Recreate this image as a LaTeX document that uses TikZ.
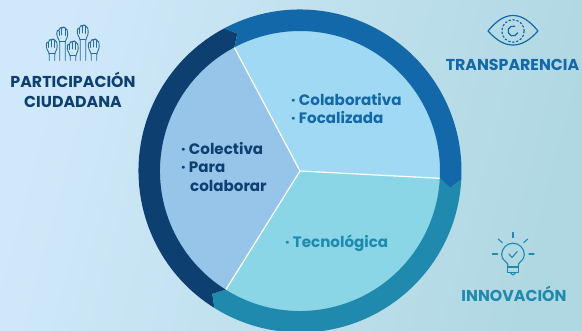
\documentclass[tikz,border=0pt]{standalone}
\usepackage{fontspec}
\setmainfont{Poppins}
\definecolor{navy}{HTML}{0D3F70}
\definecolor{ringblue}{HTML}{1268A8}
\definecolor{ringteal}{HTML}{1F8AAD}
\definecolor{pieleft}{HTML}{96C5E9}
\definecolor{pietop}{HTML}{9FD9F3}
\definecolor{piebot}{HTML}{8AD6E6}
\definecolor{bgleft}{HTML}{D0E9FA}
\definecolor{bgright}{HTML}{B0D8E2}
\definecolor{handcol}{HTML}{2A6A9F}
\newcommand{\ringseg}[3]{%
  \fill[#3] (#1:161.5) arc (#1:#2:161.5) -- ({#2-3.5}:151) -- (#2:140) arc (#2:#1:140) -- ({#1-3.5}:151) -- cycle;}
\newcommand{\handicon}[3]{%
  \begin{scope}[shift={(#1,-#2)},y=-1pt]
    \draw[iconline,rounded corners=1.2] (-2.8,#3) -- (-2.8,14.5) -- (-5.6,9) -- (-5.6,4) -- (-4.4,2.8) -- (-3.2,4) -- (-3.2,1.5) -- (-1.8,0.4) -- (-0.6,1.5) -- (0.4,0) -- (1.8,0) -- (2.6,1.5) -- (4,2) -- (5,3.5) -- (5.2,9) -- (2.8,14.5) -- (2.8,#3);
    \draw[iconline] (-3.2,4) -- (-3.2,8.5) (-0.6,1.5) -- (-0.6,8) (2.5,1.5) -- (2.5,8.5);
    \draw[iconline] (-2.8,14.5) -- (2.8,14.5);
  \end{scope}}
\tikzset{
  iconline/.style={draw=handcol,line width=0.85pt,line cap=round,line join=round},
  headlabel/.style={font=\bfseries\fontsize{15.8}{16}\selectfont,anchor=base,inner sep=0pt},
  itemlabel/.style={font=\fontsize{15.1}{16}\selectfont\bfseries,anchor=base west,inner sep=0pt},
  divider/.style={draw=white,line width=1.2pt},
  eyeline/.style={draw=ringblue,line width=1.2pt,line cap=round,line join=round},
  bulbline/.style={draw=ringteal,line width=1.1pt,line cap=round,line join=round}
}
\begin{document}
\begin{tikzpicture}[x=1pt,y=1pt]
\useasboundingbox (0,0) rectangle (582,-331);
\begin{scope}
  \clip (0,0) rectangle (582,-331);
  \shade[left color=bgleft,right color=bgright,shading angle=75] (0,0) rectangle (582,-331);
  \begin{scope}[shift={(300,-171)}]
    \coordinate (c) at (0,0);
    \coordinate (ptop) at (118:141);
    \coordinate (pright) at (-3:141);
    \coordinate (pbot) at (238:141);
    \fill[pieleft] (c) -- (ptop) arc (118:238:141) -- cycle;
    \fill[pietop] (c) -- (ptop) arc (118:-3:141) -- cycle;
    \fill[piebot] (c) -- (pright) arc (-3:-122:141) -- cycle;
    \draw[divider] (c) -- (ptop);
    \draw[divider] (c) -- (pright);
    \draw[divider] (c) -- (pbot);
    \ringseg{238}{118}{navy}
    \ringseg{118}{-3}{ringblue}
    \ringseg{-3}{-122}{ringteal}
  \end{scope}
\end{scope}

\node[itemlabel,text=ringblue] (i1) at (291,-106) {· Colaborativa};
\node[itemlabel,text=ringblue] (i2) at (291,-124) {· Focalizada};
\node[itemlabel,text=navy] (i3) at (181,-155) {· Colectiva};
\node[itemlabel,text=navy] (i4) at (181,-173) {· Para};
\node[itemlabel,text=navy] (i5) at (190,-192) {colaborar};
\node[itemlabel,text=ringteal] (i6) at (285,-248) {· Tecnológica};

\node[headlabel,text=navy] (h1) at (73,-88) {PARTICIPACIÓN};
\node[headlabel,text=navy] (h2) at (73,-107.5) {CIUDADANA};
\node[headlabel,text=ringblue] (h3) at (512.5,-70.7) {TRANSPARENCIA};
\node[headlabel,text=ringteal] (h4) at (514,-301.7) {INNOVACIÓN};

% hands
\handicon{52}{39}{21.5}
\handicon{62.5}{27}{33.5}
\handicon{73}{41}{19.5}
\handicon{83}{25}{35.5}
\handicon{94}{39}{21.5}

% eye
\draw[eyeline] (488,-31) .. controls (497,-20) and (505,-15.5) .. (513,-15.5) .. controls (521,-15.5) and (529,-20) .. (538,-31) .. controls (529,-41) and (521,-45) .. (513,-45) .. controls (505,-45) and (497,-41) .. (488,-31) -- cycle;
\draw[eyeline,dash pattern=on 1.6pt off 2.4pt] (513,-31) circle (11.2);
\draw[eyeline] (517.7,-32.7) arc (-20:-290:5);

% bulb
\draw[bulbline] (507.7,-267) -- (507.7,-264) .. controls (506,-261) and (501.7,-260) .. (501.7,-254.5) arc (180:0:11.3) .. controls (524.3,-260) and (520,-261) .. (518.5,-264) -- (518.5,-267);
\draw[bulbline] (507.7,-267) -- (518.5,-267) -- (518.5,-272.5) -- (507.7,-272.5) -- cycle;
\draw[bulbline] (510.5,-273) -- (513,-275) -- (515.5,-273);
\draw[bulbline] (509,-254) -- (512,-257.5) -- (517.3,-251.5);
\draw[bulbline] (513,-232.5) -- (513,-237.5);
\draw[bulbline] (498.3,-239) -- (502.3,-242.7);
\draw[bulbline] (527.7,-239) -- (523.7,-242.7);
\draw[bulbline] (492.5,-254) -- (497.5,-254);
\draw[bulbline] (529,-254) -- (534,-254);
\end{tikzpicture}
\end{document}
